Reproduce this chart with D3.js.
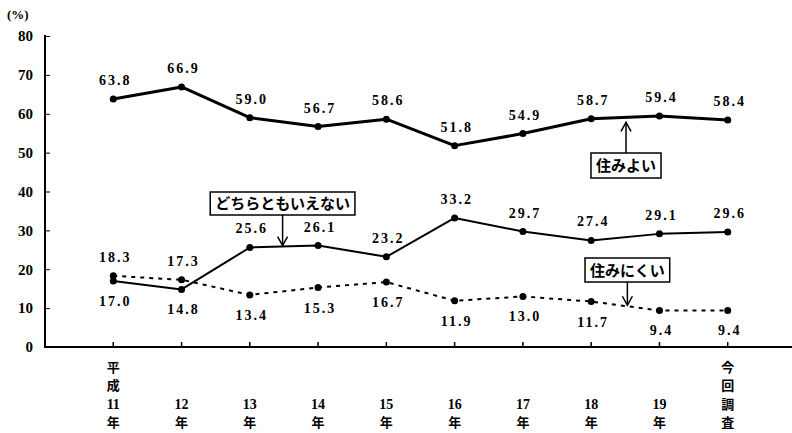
<!DOCTYPE html>
<html><head><meta charset="utf-8">
<script src="https://cdn.jsdelivr.net/npm/d3@7"></script>
<style>
html,body{margin:0;padding:0;background:#fff;}
svg{display:block;}
.num{font-family:"Liberation Serif","DejaVu Serif",serif;font-weight:bold;font-size:14px;fill:#000;}
.jp{font-family:"Noto Sans CJK JP",sans-serif;font-weight:bold;fill:#000;}
</style>
</head><body>
<svg id="chart" width="792" height="433"></svg>
<script>
// ---- data ----
const categories = [["平","成","11","年"],["12","年"],["13","年"],["14","年"],["15","年"],["16","年"],["17","年"],["18","年"],["19","年"],["今","回","調","査"]];
const categoryKeys = ["H11","H12","H13","H14","H15","H16","H17","H18","H19","今回調査"];
const sumiyoi = [63.8, 66.9, 59.0, 56.7, 58.6, 51.8, 54.9, 58.7, 59.4, 58.4];
const dochira = [17.0, 14.8, 25.6, 26.1, 23.2, 33.2, 29.7, 27.4, 29.1, 29.6];
const suminikui = [18.3, 17.3, 13.4, 15.3, 16.7, 11.9, 13.0, 11.7, 9.4, 9.4];
const yTicks = [0, 10, 20, 30, 40, 50, 60, 70, 80];
const seriesNames = ["住みよい", "どちらともいえない", "住みにくい"];
// label placement: true = above point
const dochiraAbove = [false, false, true, true, true, true, true, true, true, true];
const suminikuiAbove = [true, true, false, false, false, false, false, false, false, false];

const svg = d3.select("#chart");
const x = d3.scalePoint().domain(categoryKeys).range([45, 796]).padding(1);
const y = d3.scaleLinear().domain([0, 80]).range([347, 36]);

// axes
const yAxis = d3.axisLeft(y).tickValues(yTicks).tickSize(0).tickPadding(12).tickFormat(d3.format("d"));
const gy = svg.append("g").attr("transform", "translate(45,0)").call(yAxis);
gy.select(".domain").remove();
gy.selectAll("text").attr("class", "num").attr("font-size", null).attr("font-family", null).style("font-size","15px");
gy.selectAll(".tick").append("line").attr("x1", 0).attr("x2", 5).attr("stroke", "#000").attr("stroke-width", 1);
svg.append("line").attr("x1", 45).attr("x2", 45).attr("y1", y(80) - 1).attr("y2", y(0) + 1).attr("stroke", "#000").attr("stroke-width", 2);

const gx = svg.append("g").attr("transform", `translate(0,${y(0)})`);
gx.append("line").attr("x1", 45).attr("x2", 792).attr("stroke", "#000").attr("stroke-width", 2);
categoryKeys.forEach((k, i) => {
  gx.append("line").attr("x1", x(k)).attr("x2", x(k)).attr("y1", 0).attr("y2", -5).attr("stroke", "#000").attr("stroke-width", 1.5);
  const lines = categories[i];
  const n = lines.length;
  lines.forEach((t, j) => {
    const yy = 80 - (n - 1 - j) * 18.5;
    const isNum = /^[0-9]+$/.test(t);
    gx.append("text")
      .attr("x", x(k)).attr("y", yy)
      .attr("text-anchor", "middle")
      .attr("class", isNum ? "num" : "jp")
      .style("font-size", isNum ? "14px" : "13px")
      .text(t);
  });
});

svg.append("text").attr("x", 7).attr("y", 19).attr("class", "num").style("font-size", "13px").text("(%)");

// lines
function drawSeries(vals, width, dash, r) {
  const line = d3.line().x((d, i) => x(categoryKeys[i])).y(d => y(d));
  svg.append("path").datum(vals).attr("d", line).attr("fill", "none").attr("stroke", "#000")
    .attr("stroke-width", width).attr("stroke-dasharray", dash).attr("stroke-linejoin", "round");
  svg.append("g").selectAll("circle").data(vals).join("circle")
    .attr("cx", (d, i) => x(categoryKeys[i])).attr("cy", d => y(d)).attr("r", r).attr("fill", "#000");
}
drawSeries(sumiyoi, 3, null, 3.5);
drawSeries(dochira, 2, null, 3.5);
drawSeries(suminikui, 2, "4,5", 3.5);

function labels(vals, aboveArr) {
  svg.append("g").selectAll("text").data(vals).join("text")
    .attr("class", "num")
    .attr("x", (d, i) => x(categoryKeys[i]) + 2)
    .attr("y", (d, i) => aboveArr[i] ? y(d) - 14 : y(d) + 25)
    .attr("text-anchor", "middle")
    .style("letter-spacing", "2px")
    .text(d => d3.format(".1f")(d));
}
labels(sumiyoi, sumiyoi.map(() => true));
labels(dochira, dochiraAbove);
labels(suminikui, suminikuiAbove);

// callouts
function interp(vals, t) {
  const i = Math.floor(t), f = t - i;
  return vals[i] + (vals[i + 1] - vals[i]) * f;
}
function xAt(t) {
  const i = Math.floor(t), f = t - i;
  return x(categoryKeys[i]) + (x(categoryKeys[i + 1]) - x(categoryKeys[i])) * f;
}
function callout(name, vals, t, boxTop, boxH, dir) {
  const ax = xAt(t);
  const tipY = y(interp(vals, t)) + (dir === "up" ? 5 : -1);
  const g = svg.append("g");
  const txt = g.append("text").attr("class", "jp").style("font-size", "15px")
    .attr("x", ax).attr("y", boxTop + boxH / 2 + 5.5).attr("text-anchor", "middle").text(name);
  const bb = txt.node().getBBox();
  g.insert("rect", "text").attr("x", bb.x - 5).attr("y", boxTop).attr("width", bb.width + 10).attr("height", boxH)
    .attr("fill", "#fff").attr("stroke", "#000").attr("stroke-width", 1.5);
  const startY = dir === "up" ? boxTop : boxTop + boxH;
  g.append("line").attr("x1", ax).attr("x2", ax).attr("y1", startY).attr("y2", tipY).attr("stroke", "#000").attr("stroke-width", 1.5);
  const s = dir === "up" ? 1 : -1;
  g.append("path").attr("d", `M${ax - 5},${tipY + s * 9}L${ax},${tipY}L${ax + 5},${tipY + s * 9}`)
    .attr("fill", "none").attr("stroke", "#000").attr("stroke-width", 1.5);
}
callout(seriesNames[0], sumiyoi, 7.51, 153, 25, "up");
callout(seriesNames[1], dochira, 2.48, 192, 23, "down");
callout(seriesNames[2], suminikui, 7.53, 258, 24, "down");
</script>
</body></html>
